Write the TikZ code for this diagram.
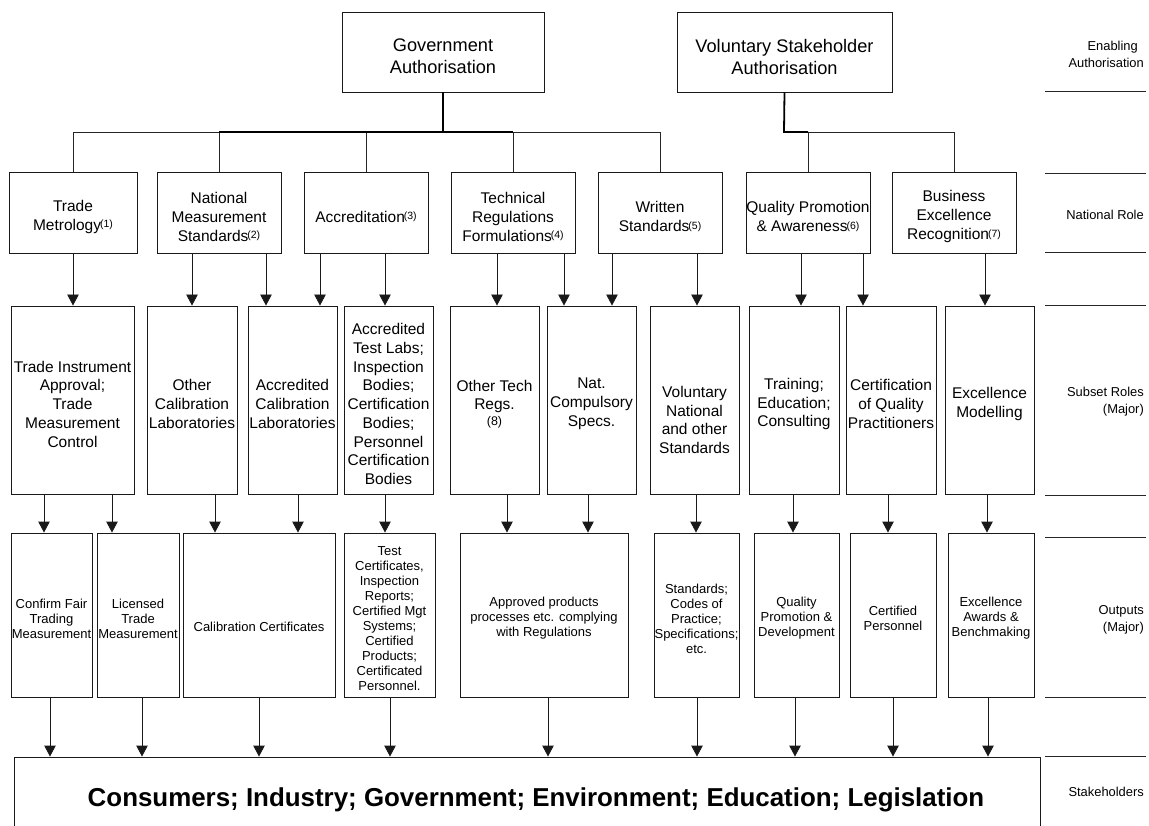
\documentclass[tikz,border=0pt]{standalone}
\usepackage{fontspec}
\setmainfont{Liberation Sans}
\usetikzlibrary{arrows.meta}
\newcommand{\nref}[1]{\kern-1pt\raisebox{2.5pt}{\fontsize{10.5}{10.5}\selectfont(#1)}}
\newcommand{\mybox}[5]{%
  \pgfmathsetmacro{\mycx}{(#2+#4)/2}\pgfmathsetmacro{\mycy}{(#3+#5)/2}%
  \pgfmathsetmacro{\myw}{#4-#2}\pgfmathsetmacro{\myh}{#5-#3}%
  \node[boxs, minimum width=\myw pt, minimum height=\myh pt] (#1) at (\mycx,\mycy) {};}
\begin{document}
\begin{tikzpicture}[x=1pt,y=-1pt,
  boxs/.style={draw=black!90, line width=0.9pt, inner sep=0pt, rectangle},
  tA/.style={align=center, font=\fontsize{18.2}{22}\selectfont, inner sep=0pt},
  tB/.style={align=center, font=\fontsize{15.5}{19}\selectfont, inner sep=0pt},
  tC/.style={align=center, font=\fontsize{15.5}{18.75}\selectfont, inner sep=0pt},
  tD/.style={align=center, font=\fontsize{13}{15}\selectfont, inner sep=0pt},
  tR/.style={align=right, anchor=east, font=\fontsize{12.9}{17}\selectfont, inner sep=0pt},
  arr/.style={draw=black!90, line width=0.9pt, -{Triangle[length=11pt,width=11.5pt]}},
  ln/.style={draw=black!85, line width=0.9pt},
  thk/.style={draw=black, line width=1.8pt}]
\useasboundingbox (0,0) rectangle (1149,826);
\clip (0,0) rectangle (1149,826);
% row 1
\mybox{gov}{342}{12}{544}{92}
\mybox{vol}{677}{12}{892}{92}
\node[tA] (gov-t) at ([yshift=-4.5pt]gov.center) {Government\\Authorisation};
\node[tA] (vol-t) at ([yshift=-4.5pt]vol.center) {Voluntary Stakeholder\\Authorisation};
% row 2
\mybox{tm}{9}{172}{137}{253}
\mybox{nms}{157}{172}{281}{253}
\mybox{acc}{304}{172}{428}{253}
\mybox{trf}{451}{172}{575}{253}
\mybox{ws}{598}{172}{722}{253}
\mybox{qpa}{746}{172}{870}{253}
\mybox{ber}{892}{172}{1016}{253}
\node[tB] (tm-t) at ([yshift=-4.3pt]tm.center) {Trade\\Metrology\nref{1}};
\node[tB] (nms-t) at ([yshift=-4.3pt]nms.center) {National\\Measurement\\Standards\nref{2}};
\node[tB] (acc-t) at ([yshift=-4.3pt]acc.center) {Accreditation\nref{3}};
\node[tB] (trf-t) at ([yshift=-4.3pt]trf.center) {Technical\\Regulations\\Formulations\nref{4}};
\node[tB] (ws-t) at ([yshift=-4.3pt]ws.center) {Written\\Standards\nref{5}};
\node[tB] (qpa-t) at ([yshift=-4.3pt]qpa.center) {Quality Promotion\\\& Awareness\nref{6}};
\node[tB] (ber-t) at ([yshift=-4.3pt]ber.center) {Business\\Excellence\\Recognition\nref{7}};
% tree
\coordinate (gj) at (443,132);
\coordinate (vj) at (784,132);
\draw[ln] (tm.north) |- (ws.north |- gj) -- (ws.north);
\foreach \n in {nms,acc,trf} \draw[ln] (\n.north) -- (\n.north |- gj);
\draw[thk] (nms.north |- gj) -- (trf.north |- gj);
\draw[thk] (gov.south) -- (gj);
\draw[ln] (qpa.north) |- (ber.north |- vj) -- (ber.north);
\draw[thk] (vol.south) -- (vj) -- (qpa.north |- vj);
% row 3
\mybox{tia}{11}{306}{134}{494}
\mybox{ocl}{147}{306}{237}{494}
\mybox{acl}{248}{306}{337}{494}
\mybox{atl}{344}{306}{433}{494}
\mybox{otr}{450}{306}{539}{494}
\mybox{ncs}{547}{306}{636}{494}
\mybox{vns}{650}{306}{739}{494}
\mybox{tec}{749}{306}{839}{494}
\mybox{cqp}{846}{306}{936}{494}
\mybox{exm}{945}{306}{1034}{494}
\node[tC] (tia-t) at ([yshift=-4pt]tia.center) {Trade Instrument\\Approval;\\Trade\\Measurement\\Control};
\node[tC] (ocl-t) at ([yshift=-4pt]ocl.center) {Other\\Calibration\\Laboratories};
\node[tC] (acl-t) at ([yshift=-4pt]acl.center) {Accredited\\Calibration\\Laboratories};
\node[tC] (atl-t) at ([yshift=-4pt]atl.center) {Accredited\\Test Labs;\\Inspection\\Bodies;\\Certification\\Bodies;\\Personnel\\Certification\\Bodies};
\node[tC] (otr-t) at ([yshift=-4pt]otr.center) {Other Tech\\Regs.\\[-3pt]{\fontsize{12.5}{12.5}\selectfont(8)}};
\node[tC] (ncs-t) at ([yshift=-4pt]ncs.center) {Nat.\\Compulsory\\Specs.};
\node[tC] (vns-t) at ([yshift=-20pt]vns.center) {Voluntary\\National\\and other\\Standards};
\node[tC] (tec-t) at ([yshift=-4pt]tec.center) {Training;\\Education;\\Consulting};
\node[tC] (cqp-t) at ([yshift=-4pt]cqp.center) {Certification\\of Quality\\Practitioners};
\node[tC] (exm-t) at ([yshift=-4pt]exm.center) {Excellence\\Modelling};
% row 4
\mybox{cft}{11}{533}{92}{697}
\mybox{ltm}{97}{533}{179}{697}
\mybox{cc}{183}{533}{335}{697}
\mybox{tc}{344}{533}{435}{697}
\mybox{ap}{460}{533}{628}{697}
\mybox{sc}{654}{533}{739}{697}
\mybox{qpd}{754}{533}{839}{697}
\mybox{cp}{850}{533}{936}{697}
\mybox{eab}{948}{533}{1034}{697}
\node[tD] (cft-t) at ([yshift=-3.5pt]cft.center) {Confirm Fair\\Trading\\Measurement};
\node[tD] (ltm-t) at ([yshift=-3.5pt]ltm.center) {Licensed\\Trade\\Measurement};
\node[tD] (cc-t) at ([yshift=-11.5pt]cc.center) {Calibration Certificates};
\node[tD] (tc-t) at ([yshift=-3.5pt]tc.center) {Test\\Certificates,\\Inspection\\Reports;\\Certified Mgt\\Systems;\\Certified\\Products;\\Certificated\\Personnel.};
\node[tD] (ap-t) at ([yshift=-3.5pt]ap.center) {Approved products\\processes etc. complying\\with Regulations};
\node[tD] (sc-t) at ([yshift=-3.5pt]sc.center) {Standards;\\Codes of\\Practice;\\Specifications;\\etc.};
\node[tD] (qpd-t) at ([yshift=-3.5pt]qpd.center) {Quality\\Promotion \&\\Development};
\node[tD] (cp-t) at ([yshift=-3.5pt]cp.center) {Certified\\Personnel};
\node[tD] (eab-t) at ([yshift=-3.5pt]eab.center) {Excellence\\Awards \&\\Benchmaking};
% stakeholders
\mybox{stk}{14}{757}{1040}{870}
\node[inner sep=0pt, font=\fontsize{25.9}{30}\selectfont\bfseries] (stk-t) at (536,800) {Consumers; Industry; Government; Environment; Education; Legislation};
% arrows
\foreach \x/\a/\b in {73/tm/tia,192/nms/ocl,266/nms/acl,320/acc/acl,385/acc/atl,497/trf/otr,564/trf/ncs,612/ws/ncs,697/ws/vns,801/qpa/tec,863/qpa/cqp,985/ber/exm,
  44/tia/cft,112/tia/ltm,215/ocl/cc,298/acl/cc,385/atl/tc,507/otr/ap,588/ncs/ap,696/vns/sc,793/tec/qpd,888/cqp/cp,987/exm/eab,
  50/cft/stk,142/ltm/stk,259/cc/stk,390/tc/stk,548/ap/stk,697/sc/stk,795/qpd/stk,893/cp/stk,988/eab/stk}
  \draw[arr] (\a.south -| \x,0) -- (\b.north -| \x,0);
% right-hand labels
\foreach \yy in {91,173,252,305,495,537,697,756} \draw[ln] (1045,\yy) -- (1146,\yy);
\node[tR] (lab1) at (1144,54) {Enabling\hspace*{6pt}\\Authorisation};
\node[tR] (lab2) at (1144,215) {National Role};
\node[tR] (lab3) at (1144,402) {Subset Roles\\(Major)};
\node[tR] (lab4) at (1144,620) {Outputs\\(Major)};
\node[tR] (lab5) at (1144,792) {Stakeholders};
\end{tikzpicture}
\end{document}
